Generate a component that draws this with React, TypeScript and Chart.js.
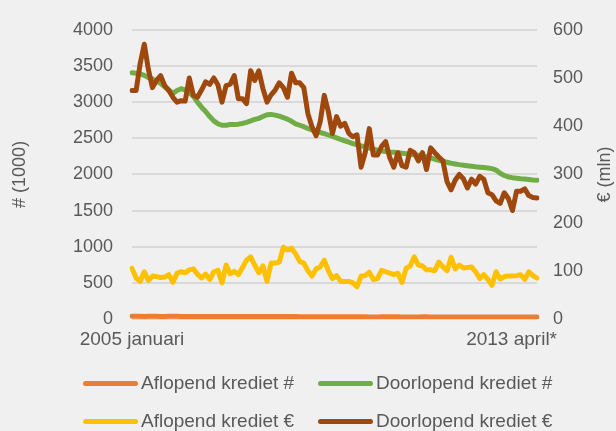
import React, { useEffect, useRef } from "react";
import { Chart, registerables } from "chart.js";

Chart.register(...registerables);

const monthNames = ["januari", "februari", "maart", "april", "mei", "juni", "juli", "augustus", "september", "oktober", "november", "december"];
const categories: string[] = [];
for (let y = 2005; y <= 2013; y++) {
  for (let m = 0; m < 12; m++) {
    if (y === 2013 && m > 3) break;
    categories.push(`${y} ${monthNames[m]}${y === 2013 && m === 3 ? "*" : ""}`);
  }
}

const xTickLabels = ["2005 januari", "2013 april*"];
const leftTicks = { min: 0, max: 4000, step: 500 };
const rightTicks = { min: 0, max: 600, step: 100 };
const leftTitle = "# (1000)";
const rightTitle = "€ (mln)";

const seriesNames = ["Aflopend krediet #", "Doorlopend krediet #", "Aflopend krediet €", "Doorlopend krediet €"];

// Aflopend krediet # (left axis, x1000)
const aflopendAantal = [
  38, 37, 37, 36, 37, 38, 37, 36, 36, 37, 38, 37, 36, 36, 35, 35, 36, 36, 35, 35,
  34, 34, 35, 35, 34, 34, 34, 33, 34, 35, 35, 34, 34, 33, 33, 34, 36, 35, 34, 33,
  33, 32, 32, 32, 31, 31, 31, 31, 30, 30, 30, 30, 30, 31, 31, 30, 30, 30, 29, 29,
  29, 30, 30, 30, 30, 30, 29, 29, 29, 29, 29, 30, 30, 29, 29, 29, 29, 28, 28, 28,
  28, 28, 28, 28, 28, 28, 28, 28, 27, 27, 27, 27, 27, 27, 27, 27, 27, 27, 27, 27,
];

// Doorlopend krediet # (left axis, x1000)
const doorlopendAantal = [
  3405, 3400, 3390, 3370, 3340, 3320, 3290, 3260, 3210, 3170,
  3120, 3160, 3185, 3170, 3130, 3080, 3000, 2930, 2870, 2800,
  2740, 2700, 2680, 2680, 2690, 2690, 2695, 2705, 2720, 2740,
  2760, 2775, 2800, 2825, 2830, 2820, 2805, 2785, 2765, 2735,
  2700, 2680, 2660, 2635, 2615, 2595, 2580, 2565, 2545, 2525,
  2505, 2485, 2465, 2445, 2425, 2410, 2395, 2380, 2365, 2350,
  2335, 2325, 2318, 2310, 2305, 2298, 2292, 2286, 2280, 2272,
  2265, 2255, 2245, 2228, 2210, 2195, 2180, 2168, 2155, 2145,
  2135, 2128, 2120, 2112, 2105, 2100, 2095, 2088, 2080, 2060,
  2015, 1985, 1965, 1955, 1948, 1940, 1935, 1928, 1922, 1918,
];

// Aflopend krediet € (right axis, mln)
const aflopendBedrag = [
  105, 85, 78, 98, 80, 89, 88, 86, 87, 92,
  76, 95, 98, 96, 102, 104, 93, 85, 93, 82,
  98, 101, 75, 112, 94, 99, 92, 107, 122, 129,
  112, 96, 110, 78, 116, 116, 118, 149, 143, 147,
  135, 119, 116, 100, 89, 104, 108, 122, 100, 84,
  90, 78, 78, 78, 75, 67, 89, 90, 97, 82,
  84, 101, 98, 95, 92, 95, 76, 105, 110, 129,
  112, 110, 102, 102, 100, 118, 108, 100, 128, 104,
  112, 106, 107, 108, 98, 84, 92, 82, 70, 98,
  83, 88, 89, 89, 90, 92, 82, 98, 90, 85,
];

// Doorlopend krediet € (right axis, mln)
const doorlopendBedrag = [
  474, 474, 530, 570, 518, 480, 495, 505, 484, 474,
  460, 450, 453, 452, 500, 464, 460, 475, 492, 487,
  500, 486, 450, 484, 487, 505, 457, 457, 447, 515,
  495, 515, 478, 450, 465, 475, 490, 480, 460, 510,
  490, 490, 480, 426, 399, 380, 409, 464, 430, 385,
  420, 400, 406, 385, 378, 382, 315, 345, 395, 340,
  340, 358, 368, 335, 315, 345, 318, 315, 350, 345,
  328, 345, 310, 355, 345, 336, 328, 285, 268, 288,
  300, 291, 272, 290, 280, 296, 290, 262, 258, 245,
  240, 262, 250, 225, 265, 265, 270, 256, 252, 251,
];

const COLORS = ["#ED7D31", "#70AD47", "#FFC000", "#9E480E"];
const BG = "#F0F0F0";
const TEXT = "#595959";
const GRID = "#D9D9D9";
const FONT = '"Liberation Sans", Arial, sans-serif';
const FS = 19;
const TICK_FS = 18;

const textPlugin = {
  id: "extraTexts",
  afterDraw(chart: any) {
    const { ctx, chartArea, scales } = chart;
    const x = scales.x;
    ctx.save();
    ctx.fillStyle = TEXT;
    ctx.font = `${FS}px ${FONT}`;
    ctx.textBaseline = "middle";
    const ly = chartArea.bottom + 21;
    ctx.textAlign = "center";
    ctx.fillText(xTickLabels[0], x.getPixelForValue(0), ly);
    ctx.textAlign = "right";
    ctx.fillText(xTickLabels[1], x.getPixelForValue(categories.length - 1) + 20, ly);
    const cy = (chartArea.top + chartArea.bottom) / 2;
    ctx.textAlign = "center";
    ctx.font = `${TICK_FS}px ${FONT}`;
    ctx.save();
    ctx.translate(20, cy);
    ctx.rotate(-Math.PI / 2);
    ctx.fillText(leftTitle, 0, 0);
    ctx.restore();
    ctx.save();
    ctx.translate(chart.width - 11, cy);
    ctx.rotate(-Math.PI / 2);
    ctx.fillText(rightTitle, 0, 0);
    ctx.restore();
    ctx.restore();
  },
};

export default function App() {
  const ref = useRef<HTMLCanvasElement | null>(null);

  useEffect(() => {
    if (!ref.current) return;
    const series = [aflopendAantal, doorlopendAantal, aflopendBedrag, doorlopendBedrag];
    const axes = ["y", "y", "y1", "y1"];
    const orders = [3, 2, 1, 0];
    const chart = new Chart(ref.current, {
      type: "line",
      data: {
        labels: categories,
        datasets: series.map((d, i) => ({
          label: seriesNames[i],
          data: d,
          yAxisID: axes[i],
          borderColor: COLORS[i],
          backgroundColor: COLORS[i],
          borderWidth: 5,
          pointRadius: 0,
          tension: 0,
          fill: false,
          borderJoinStyle: "round" as const,
          borderCapStyle: "round" as const,
          order: orders[i],
        })),
      },
      options: {
        animation: false,
        responsive: false,
        maintainAspectRatio: false,
        layout: { padding: { top: 23, bottom: 112, left: 0, right: 0 } },
        plugins: { legend: { display: false }, tooltip: { enabled: false } },
        scales: {
          x: { display: false, offset: false },
          y: {
            position: "left",
            min: leftTicks.min,
            max: leftTicks.max,
            border: { display: false },
            grid: { color: GRID, lineWidth: 2, drawTicks: false },
            ticks: {
              stepSize: leftTicks.step,
              color: TEXT,
              font: { size: TICK_FS, family: FONT },
              padding: 19,
              callback: (v: any) => String(v),
            },
            afterFit: (s: any) => { s.width = 132; },
          },
          y1: {
            position: "right",
            min: rightTicks.min,
            max: rightTicks.max,
            border: { display: false },
            grid: { display: false, drawTicks: false },
            ticks: {
              stepSize: rightTicks.step,
              color: TEXT,
              font: { size: TICK_FS, family: FONT },
              padding: 16,
              callback: (v: any) => String(v),
            },
            afterFit: (s: any) => { s.width = 79; },
          },
        },
      },
      plugins: [textPlugin],
    });
    return () => chart.destroy();
  }, []);

  const legendItem = (i: number, left: number, top: number) => (
    <div key={i} style={{ position: "absolute", left, top, height: 20, display: "flex", alignItems: "center" }}>
      <div style={{ width: 55, height: 5, borderRadius: 3, background: COLORS[i], marginRight: 3 }} />
      <span style={{ fontFamily: FONT, fontSize: FS, color: TEXT, whiteSpace: "nowrap" }}>{seriesNames[i]}</span>
    </div>
  );

  return (
    <div style={{ position: "fixed", left: 0, top: 0, width: 616, height: 431, background: BG, overflow: "hidden" }}>
      <canvas ref={ref} width={616} height={431} style={{ position: "absolute", left: 0, top: 0, width: 616, height: 431 }} />
      {legendItem(0, 83, 373)}
      {legendItem(1, 318, 373)}
      {legendItem(2, 83, 411)}
      {legendItem(3, 318, 411)}
    </div>
  );
}
